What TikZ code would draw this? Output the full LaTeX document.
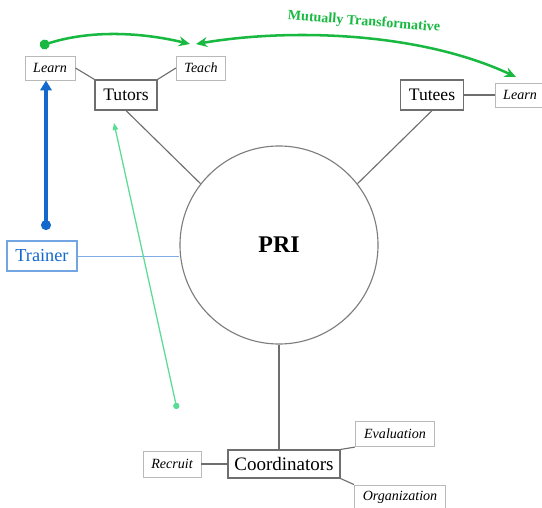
\documentclass[tikz,border=0pt]{standalone}
\usepackage{fontspec}
\setmainfont{Liberation Serif}
\usetikzlibrary{arrows.meta, positioning}
\definecolor{mutgreen}{RGB}{25,185,65}
\definecolor{thingreen}{RGB}{90,220,150}
\definecolor{trainblue}{RGB}{20,105,205}
\definecolor{boxgray}{RGB}{110,110,110}
\tikzset{
  % main roles and small task boxes
  role/.style={rectangle, draw=boxgray, line width=0.8pt, fill=white, text centered, minimum height=0.75cm, inner sep=1pt, font=\fontsize{12.5}{14}\selectfont},
  task/.style={rectangle, draw=gray!55, line width=0.7pt, fill=white, text centered, minimum height=0.6cm, inner sep=1pt, font=\fontsize{10}{12}\selectfont\itshape},
  link/.style={draw=boxgray, line width=0.8pt},
  mutual/.style={mutgreen, line width=1.8pt},
}
\begin{document}
\begin{tikzpicture}[x=0.025cm, y=-0.025cm]
    \useasboundingbox (0,0) rectangle (542,508);
    % centre
    \node[circle, draw=boxgray!90, line width=0.8pt, minimum size=4.95cm, inner sep=0pt, font=\fontsize{17}{20}\selectfont\bfseries] (pri) at (279,245) {PRI};
    % Tutors side
    \node[role, minimum width=1.55cm] (tutors) at (126,95) {Tutors};
    \node[task, minimum width=1.25cm] (learnL) at (50,68) {Learn};
    \node[task, minimum width=1.23cm] (teach) at (201,68) {Teach};
    % Tutees side
    \node[role, minimum width=1.58cm] (tutees) at (432,95) {Tutees};
    \node[task, minimum width=1.25cm] (learnR) at (520,95) {Learn};
    % Trainer
    \node[role, draw=trainblue!60, text=trainblue, minimum width=1.75cm, font=\fontsize{13}{15}\selectfont] (trainer) at (42,256) {Trainer};
    % Coordinators
    \node[role, minimum width=2.8cm, minimum height=0.7cm, font=\fontsize{13.5}{15}\selectfont] (coord) at (284,464) {Coordinators};
    \node[task, minimum width=1.45cm, minimum height=0.65cm] (recruit) at (172,464) {Recruit};
    \node[task, minimum width=1.98cm, minimum height=0.63cm] (eval) at (395,434) {Evaluation};
    \node[task, minimum width=2.28cm] (org) at (400,497) {Organization};
    % links
    \draw[link] (learnL.east) -- (tutors.north west);
    \draw[link] (teach.west) -- (tutors.north east);
    \draw[link] (tutees.east) -- (learnR.west);
    \draw[link] (tutors.south) -- (pri.142);
    \draw[link] (tutees.south) -- (pri.38);
    \draw[link] (pri.south) -- (pri.south |- coord.north);
    \draw[link] (recruit.east) -- (coord.west);
    \draw[link] (coord.north east) -- (eval.south west);
    \draw[link] (coord.south east) -- (org.north west);
    \draw[trainblue!55, line width=0.6pt] (trainer.east) -- (trainer.east -| pri.west);
    % arrows
    \coordinate (bdot) at (46,230);
    \draw[trainblue, line width=2.2pt, {Circle[length=7pt, width=7pt]}-{Triangle[length=7pt, width=8pt]}] (bdot) -- (bdot |- learnL.south);
    \coordinate (gdot) at (177,409);
    \coordinate (gtip) at (114,123);
    \draw[thingreen, line width=0.9pt, {Circle[length=4.5pt, width=4.5pt]}-{Triangle[length=5pt, width=4pt]}] (gdot) -- (gtip);
    \coordinate (m1) at (40,46);
    \coordinate (m2) at (190,44);
    \coordinate (m3) at (196,44);
    \coordinate (m4) at (516,77);
    \draw[mutual, {Circle[length=7pt, width=7pt]}-{Stealth[length=8pt, width=7pt]}] (m1) .. controls (90,30) and (140,32) .. (m2);
    \draw[mutual, {Stealth[length=8pt, width=7pt]}-{Stealth[length=8pt, width=7pt]}] (m3) .. controls (290,28) and (420,32) .. (m4);
    \node[mutgreen, rotate=-4.5, font=\fontsize{10}{12}\selectfont\bfseries] (mlabel) at (364,22) {Mutually Transformative};
\end{tikzpicture}
\end{document}
